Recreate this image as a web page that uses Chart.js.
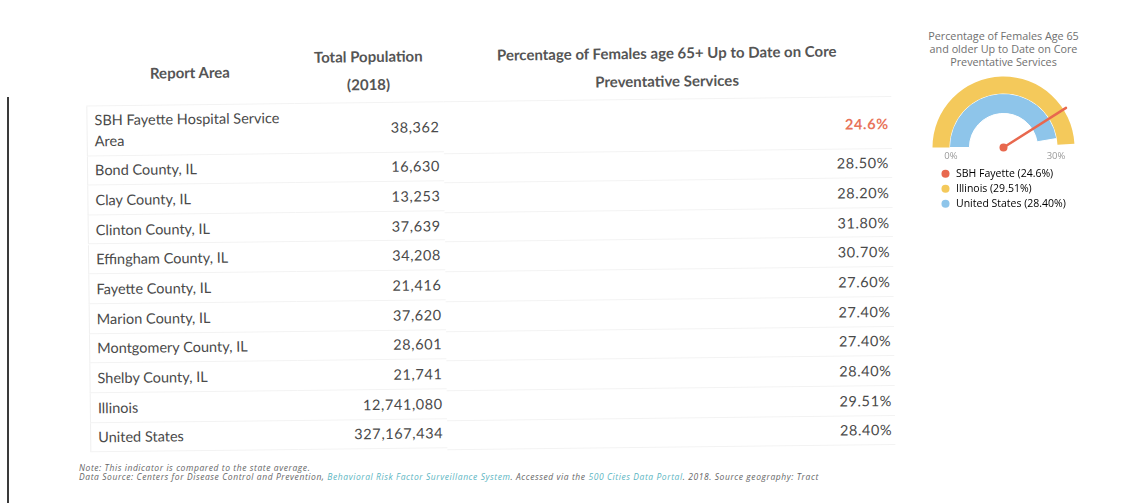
<!DOCTYPE html>
<html>
<head>
<meta charset="utf-8">
<script src="https://cdn.jsdelivr.net/npm/chart.js@4.4.1/dist/chart.umd.min.js"></script>
<style>
    html, body { margin: 0; padding: 0; background: #fff; }
    body { width: 1141px; height: 503px; position: relative; overflow: hidden; font-family: Lato, "Open Sans", sans-serif; color: #4a4a4a; }
    #sheet { position: absolute; left: 0; top: 0; width: 1141px; height: 503px; transform: rotate(-0.67deg); transform-origin: 120px 250px; }
    .cell { position: absolute; display: flex; align-items: center; box-sizing: border-box; border-bottom: 1px solid #f3f3f3; }
    .head { font-weight: bold; color: #555; font-size: 15px; line-height: 28px; text-align: center; justify-content: center; }
    .name { font-size: 14.5px; line-height: 21px; padding-left: 7px; border-left: 1px solid #f0f0f0; }
    .num { font-size: 14.5px; justify-content: flex-end; padding-right: 4px; letter-spacing: 0.6px; }
    .pct { font-size: 14.5px; justify-content: flex-end; padding-right: 3px; letter-spacing: 0.6px; }
    .hi { color: #e8735a; font-weight: bold; }
    .note { position: absolute; left: 79px; font-family: "Open Sans", sans-serif; font-style: italic; font-size: 8.5px; line-height: 9px; letter-spacing: 0.58px; color: #666; white-space: nowrap; }
    .note span { color: #5bb5c2; }
    #edge { position: absolute; left: 7px; top: 97px; width: 2px; height: 406px; background: #3a3a3a; }
    #gaugeTitle { position: absolute; left: 923.5px; top: 28.5px; width: 160px; text-align: center; font-family: "Open Sans", sans-serif; font-size: 10.8px; line-height: 13px; color: #6f6f6f; }
    #gauge { position: absolute; left: 925px; top: 60px; }
</style>
</head>
<body>
<div id="edge"></div>
<div id="sheet"></div>
<div id="gaugeTitle"></div>
<canvas id="gauge" width="165" height="159"></canvas>

<script>
// table data
const headers = ["Report Area", "Total Population<br>(2018)", "Percentage of Females age 65+ Up to Date on Core<br>Preventative Services"];
const areas = [
    "SBH Fayette Hospital Service<br>Area",
    "Bond County, IL",
    "Clay County, IL",
    "Clinton County, IL",
    "Effingham County, IL",
    "Fayette County, IL",
    "Marion County, IL",
    "Montgomery County, IL",
    "Shelby County, IL",
    "Illinois",
    "United States"
];
const population = ["38,362", "16,630", "13,253", "37,639", "34,208", "21,416", "37,620", "28,601", "21,741", "12,741,080", "327,167,434"];
const percentages = ["24.6%", "28.50%", "28.20%", "31.80%", "30.70%", "27.60%", "27.40%", "27.40%", "28.40%", "29.51%", "28.40%"];

// gauge data
const gaugeTitle = ["Percentage of Females Age 65", "and older Up to Date on Core", "Preventative Services"];
const gaugeLabels = ["SBH Fayette", "Illinois", "United States"];
const gaugeRows = [0, 9, 10];          // rows of the table shown in the gauge
const gaugeMax = 30;
const gaugeTicks = ["0%", "30%"];
const gaugeColors = ["#e8684e", "#f4c95b", "#8ec5ea"];

window.addEventListener("load", init);

function init() {
    buildTable();
    drawGauge();
}

/**
 * Puts the table cells on the (slightly tilted) sheet.
 * */
function buildTable() {
    const sheet = document.querySelector("#sheet");
    const cols = [[88, 208], [296, 149], [445, 448]];
    let html = "";

    headers.forEach((h, i) => {
        html += `<div class="cell head" style="left:${cols[i][0]}px;top:40px;width:${cols[i][1]}px;height:66px">${h}</div>`;
    });

    let top = 106;
    areas.forEach((area, i) => {
        const h = i === 0 ? 49.5 : 29.67;
        const pctClass = i === 0 ? "pct hi" : "pct";
        html += `
            <div class="cell name" style="left:${cols[0][0]}px;top:${top}px;width:${cols[0][1]}px;height:${h}px">${area}</div>
            <div class="cell num" style="left:${cols[1][0]}px;top:${top}px;width:${cols[1][1]}px;height:${h}px">${population[i]}</div>
            <div class="cell ${pctClass}" style="left:${cols[2][0]}px;top:${top + 2}px;width:${cols[2][1]}px;height:${h}px">${percentages[i]}</div>`;
        top += h;
    });
    sheet.innerHTML = html;

    // the notes stay flat, so their boxes do not run into each other
    document.body.insertAdjacentHTML("beforeend",
        `<div class="note" style="top:462.5px">Note: This indicator is compared to the state average.</div>
         <div class="note" style="top:471.5px">Data Source: Centers for Disease Control and Prevention, <span>Behavioral Risk Factor Surveillance System</span>. Accessed via the <span>500 Cities Data Portal</span>. 2018. Source geography: Tract</div>`);
}

// draws the needle, the centre dot and the 0% / 30% labels.
const needlePlugin = {
    id: "needle",
    afterDatasetsDraw(chart) {
        const outer = chart.getDatasetMeta(0).data[0];
        const inner = chart.getDatasetMeta(1).data[0];
        const value = parseFloat(percentages[gaugeRows[0]]);
        const angle = outer.startAngle + (value / gaugeMax) * Math.PI;
        const len = outer.outerRadius + 3;
        const ctx = chart.ctx;

        ctx.save();
        ctx.strokeStyle = gaugeColors[0];
        ctx.fillStyle = gaugeColors[0];
        ctx.lineWidth = 2.5;
        ctx.lineCap = "round";
        ctx.beginPath();
        ctx.moveTo(outer.x, outer.y);
        ctx.lineTo(outer.x + Math.cos(angle) * len, outer.y + Math.sin(angle) * len);
        ctx.stroke();
        ctx.beginPath();
        ctx.arc(outer.x, outer.y, 4, 0, Math.PI * 2);
        ctx.fill();

        const r = (outer.outerRadius + inner.innerRadius) / 2;
        ctx.font = "9.5px 'Open Sans'";
        ctx.fillStyle = "#9a9a9a";
        ctx.textAlign = "center";
        ctx.textBaseline = "middle";
        ctx.fillText(gaugeTicks[0], outer.x - r, outer.y + 9);
        ctx.fillText(gaugeTicks[1], outer.x + r, outer.y + 9);
        ctx.restore();
    }
};

function drawGauge() {
    document.querySelector("#gaugeTitle").innerHTML = gaugeTitle.join("<br>");

    const ctx = document.querySelector("#gauge").getContext("2d");
    const state = parseFloat(percentages[gaugeRows[1]]);
    const nation = parseFloat(percentages[gaugeRows[2]]);

    new Chart(ctx, {
        type: "doughnut",
        data: {
            datasets: [{
                data: [state, gaugeMax - state],
                backgroundColor: [gaugeColors[1], "rgba(0,0,0,0)"],
                borderWidth: 0,
                weight: 17
            }, {
                data: [nation, gaugeMax - nation],
                backgroundColor: [gaugeColors[2], "rgba(0,0,0,0)"],
                borderColor: "#fff",
                borderWidth: [1, 0],
                weight: 20
            }]
        },
        options: {
            responsive: false,
            animation: false,
            devicePixelRatio: 1,
            rotation: -90,
            circumference: 180,
            cutout: "48%",
            radius: 71,
            layout: {
                padding: { left: 10.75, right: 18.75, top: 0, bottom: 0 }
            },
            plugins: {
                tooltip: { enabled: false },
                legend: {
                    position: "bottom",
                    align: "start",
                    labels: {
                        usePointStyle: true,
                        boxWidth: 10.5,
                        boxHeight: 5.7,
                        padding: 4.5,
                        color: "#505050",
                        font: { family: "'Open Sans'", size: 10.5 },
                        generateLabels: () => gaugeLabels.map((label, i) => ({
                            text: `${label} (${percentages[gaugeRows[i]]})`,
                            fillStyle: gaugeColors[i],
                            strokeStyle: gaugeColors[i],
                            lineWidth: 0,
                            pointStyle: "circle",
                            hidden: false,
                            index: i
                        }))
                    }
                }
            }
        },
        plugins: [needlePlugin]
    });
}
</script>
</body>
</html>
